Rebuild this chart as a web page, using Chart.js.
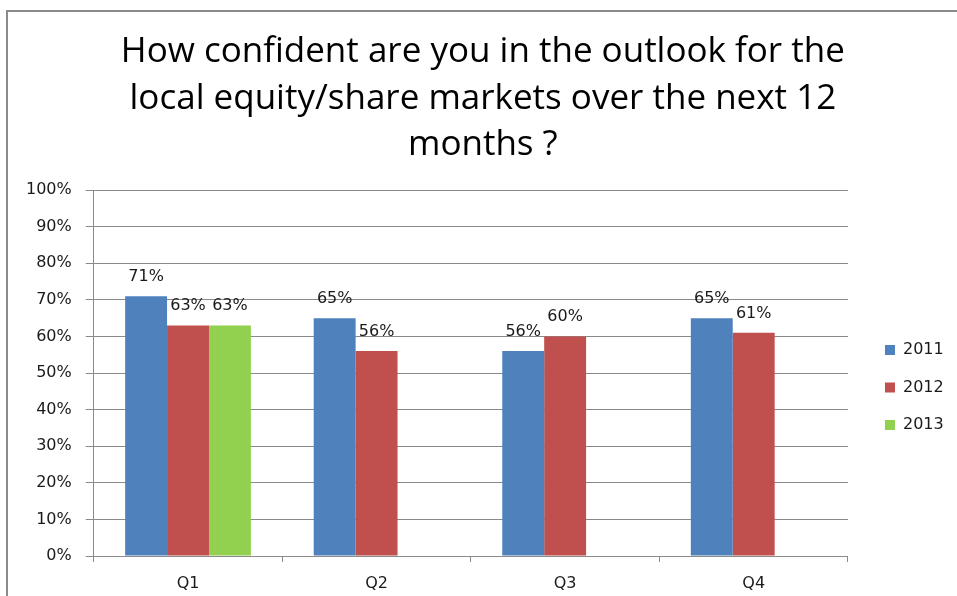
<!DOCTYPE html>
<html>
<head>
<meta charset="utf-8">
<script src="https://cdn.jsdelivr.net/npm/chart.js@4/dist/chart.umd.min.js"></script>
<style>
  html, body { margin: 0; padding: 0; background: #ffffff; }
  #wrap { position: absolute; left: 0; top: 0; width: 957px; height: 596px; }
</style>
</head>
<body>
<div id="wrap"><canvas id="c" width="957" height="596"></canvas></div>
<script>
const categories = ['Q1', 'Q2', 'Q3', 'Q4'];
const values2011 = [71, 65, 56, 65];
const values2012 = [63, 56, 60, 61];
const values2013 = [63, null, null, null];
const seriesNames = ['2011', '2012', '2013'];
const yTicks = [0, 10, 20, 30, 40, 50, 60, 70, 80, 90, 100];
const titleLines = ['How confident are you in the outlook for the', 'local equity/share markets over the next 12', 'months ?'];

const frame = {
  id: 'frame',
  beforeDraw(chart) {
    const ctx = chart.ctx;
    ctx.save();
    ctx.strokeStyle = '#8a8a8a';
    ctx.lineWidth = 2;
    ctx.beginPath();
    ctx.moveTo(7, chart.height);
    ctx.lineTo(7, 11);
    ctx.lineTo(chart.width, 11);
    ctx.stroke();
    ctx.restore();
  }
};

const valueLabels = {
  id: 'valueLabels',
  afterDatasetsDraw(chart) {
    const ctx = chart.ctx;
    ctx.save();
    ctx.font = '16px "DejaVu Sans"';
    ctx.fillStyle = '#1a1a1a';
    ctx.textAlign = 'center';
    ctx.textBaseline = 'alphabetic';
    chart.data.datasets.forEach((ds, i) => {
      const meta = chart.getDatasetMeta(i);
      meta.data.forEach((el, j) => {
        const v = ds.data[j];
        if (v === null || v === undefined) return;
        ctx.fillText(v + '%', el.x, el.y - 15);
      });
    });
    ctx.restore();
  }
};

new Chart(document.getElementById('c'), {
  type: 'bar',
  data: {
    labels: categories,
    datasets: [
      { label: seriesNames[0], data: values2011, backgroundColor: '#4F81BD' },
      { label: seriesNames[1], data: values2012, backgroundColor: '#C0504D' },
      { label: seriesNames[2], data: values2013, backgroundColor: '#92D050' }
    ]
  },
  options: {
    responsive: false,
    animation: false,
    layout: { padding: { left: 12, right: 3.3, top: 0, bottom: 0 } },
    datasets: { bar: { categoryPercentage: 0.667, barPercentage: 1.0 } },
    plugins: {
      title: {
        display: true,
        text: titleLines,
        color: '#000000',
        font: { family: 'Open Sans', size: 35, weight: 'normal', lineHeight: 1.33 },
        padding: { top: 29, bottom: 21.4 }
      },
      legend: {
        display: true,
        position: 'right',
        title: { display: true, text: ' ', font: { size: 16, lineHeight: 1.2 }, padding: { top: 0, bottom: 160 } },
        labels: {
          boxWidth: 10,
          boxHeight: 10,
          padding: 21.5,
          color: '#1a1a1a',
          font: { family: 'DejaVu Sans', size: 16 }
        }
      },
      tooltip: { enabled: false }
    },
    scales: {
      x: {
        grid: { display: true, drawOnChartArea: false, color: '#8a8a8a', tickLength: 6, offset: true },
        border: { color: '#8a8a8a' },
        ticks: { color: '#1a1a1a', font: { family: 'DejaVu Sans', size: 16 }, padding: 12 },
        afterFit(scale) { scale.height = 40; }
      },
      y: {
        min: 0,
        max: 100,
        afterBuildTicks(scale) { scale.ticks = yTicks.map(v => ({ value: v })); },
        grid: { color: '#8a8a8a', tickLength: 8 },
        border: { color: '#8a8a8a' },
        ticks: { color: '#1a1a1a', font: { family: 'DejaVu Sans', size: 16 }, padding: 14, callback: v => v + '%' }
      },
      gap: {
        type: 'linear',
        position: 'right',
        display: true,
        grid: { display: false },
        border: { display: false },
        ticks: { display: false },
        afterFit(scale) { scale.width = 15.5; }
      }
    }
  },
  plugins: [frame, valueLabels]
});
</script>
</body>
</html>
